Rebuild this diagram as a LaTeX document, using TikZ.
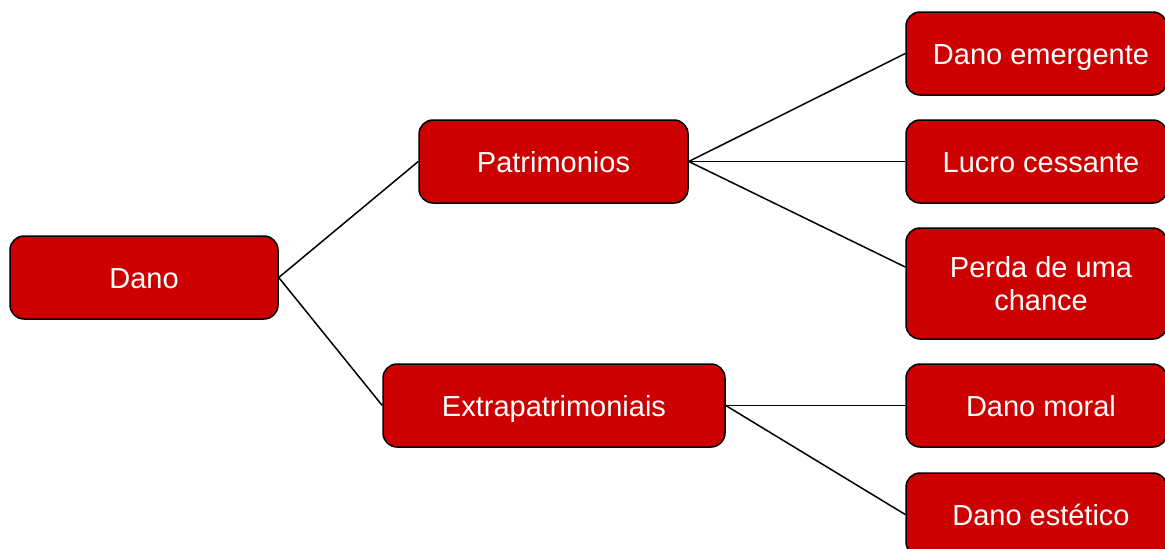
\documentclass[tikz,border=0pt]{standalone}
\usepackage{fontspec}
\setmainfont{Liberation Sans}
\definecolor{boxred}{HTML}{CC0000}
\begin{document}
\begin{tikzpicture}[x=1pt,y=-1pt,
  rbox/.style={draw=black,line width=1.5pt,fill=boxred,rounded corners=14pt,
    text=white,font=\fontsize{29}{33}\selectfont,align=center,inner sep=0pt,
    minimum height=83pt,text height=21pt,text depth=0pt},
  rtext/.style={execute at begin node=\hspace*{9pt}},
  link/.style={draw=black,line width=1.5pt}]
\useasboundingbox (0,0) rectangle (1165,549);
\clip (0,0) rectangle (1165,549);
\node[rbox,minimum width=268pt] (dano) at (144,277.5) {Dano};
\node[rbox,minimum width=269pt] (pat) at (553.5,161.5) {Patrimonios};
\node[rbox,minimum width=342pt] (ext) at (554,405.5) {Extrapatrimoniais};
\node[rbox,rtext,minimum width=261pt] (em) at (1036.5,53.5) {Dano emergente};
\node[rbox,rtext,minimum width=261pt] (lc) at (1036.5,161.5) {Lucro cessante};
\node[rbox,minimum width=261pt,minimum height=111pt,text height=,text depth=] (pc) at (1036.5,283.5) {\hspace*{9pt}\raisebox{-3pt}{Perda de uma}\\\hspace*{9pt}\raisebox{-3pt}{chance}};
\node[rbox,rtext,minimum width=261pt] (dm) at (1036.5,405.5) {Dano moral};
\node[rbox,rtext,minimum width=261pt] (de) at (1036.5,514.5) {Dano estético};
\draw[link] (dano.east) -- (pat.west);
\draw[link] (dano.east) -- (ext.west);
\draw[link] (pat.east) -- (em.west);
\draw[link] (pat.east) -- (lc.west);
\draw[link] (pat.east) -- ([yshift=16.5pt]pc.west);
\draw[link] (ext.east) -- (dm.west);
\draw[link] (ext.east) -- (de.west);
\end{tikzpicture}
\end{document}
